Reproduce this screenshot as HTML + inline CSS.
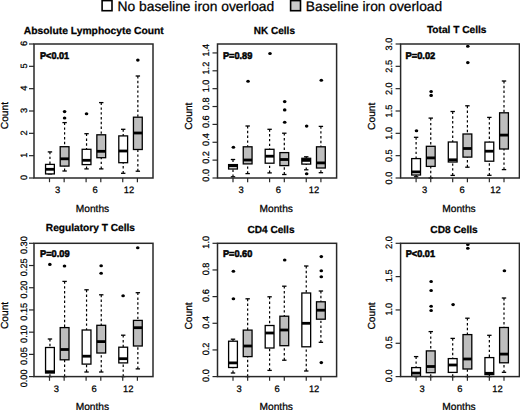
<!DOCTYPE html>
<html><head><meta charset="utf-8"><style>
html,body{margin:0;padding:0;background:#fff;}
svg{display:block;}
text{font-family:"Liberation Sans", sans-serif;text-rendering:geometricPrecision;fill:#000;stroke:#000;stroke-width:0.25px;}
.w{stroke:#000;stroke-width:1.2;stroke-dasharray:2.4 2.4;}
.s{stroke:#000;stroke-width:1.3;}
.b{stroke:#000;stroke-width:1.3;}
.m{stroke:#000;stroke-width:2.8;}
.o{fill:#000;}
.fr{fill:none;stroke:#282828;stroke-width:1.5;}
.t{stroke:#282828;stroke-width:1.2;}
.xl{font-size:9.4px;text-anchor:middle;}
.yl{font-size:9.2px;text-anchor:middle;}
.ti{font-size:10.2px;font-weight:bold;text-anchor:middle;}
.pv{font-size:9.8px;font-weight:bold;stroke-width:0.55px;}
.al{font-size:10.2px;text-anchor:middle;}
.lg{font-size:13.7px;}
</style></head><body>
<svg width="520" height="410" viewBox="0 0 520 410">
<g>
<rect width="520" height="410" fill="#fff"/>
<rect x="102.1" y="0.6" width="9.9" height="10.1" fill="#fff" stroke="#000" stroke-width="1.6"/>
<text x="117.6" y="10.9" class="lg" textLength="156.6" lengthAdjust="spacingAndGlyphs">No baseline iron overload</text>
<rect x="290.6" y="0.6" width="9.9" height="10.1" fill="#cacaca" stroke="#000" stroke-width="1.6"/>
<text x="305.8" y="10.9" class="lg" textLength="136.4" lengthAdjust="spacingAndGlyphs">Baseline iron overload</text>
<line x1="49.95" y1="151.9" x2="49.95" y2="164.4" class="w"/>
<line x1="49.95" y1="173.9" x2="49.95" y2="173.9" class="w"/>
<line x1="47.75" y1="151.9" x2="52.15" y2="151.9" class="s"/>
<line x1="47.75" y1="173.9" x2="52.15" y2="173.9" class="s"/>
<rect x="45.55" y="164.4" width="8.8" height="9.5" fill="#fff" class="b"/>
<line x1="45.55" y1="169.3" x2="54.35" y2="169.3" class="m"/>
<line x1="64.6" y1="122.6" x2="64.6" y2="146.7" class="w"/>
<line x1="64.6" y1="171" x2="64.6" y2="166.1" class="w"/>
<line x1="62.4" y1="122.6" x2="66.8" y2="122.6" class="s"/>
<line x1="62.4" y1="171" x2="66.8" y2="171" class="s"/>
<rect x="60.2" y="146.7" width="8.8" height="19.4" fill="#bebebe" class="b"/>
<line x1="60.2" y1="158.8" x2="69" y2="158.8" class="m"/>
<ellipse cx="64.6" cy="111.6" rx="1.8" ry="1.55" class="o"/>
<ellipse cx="64.6" cy="118" rx="1.8" ry="1.55" class="o"/>
<line x1="86.55" y1="133.7" x2="86.55" y2="149.3" class="w"/>
<line x1="86.55" y1="168.9" x2="86.55" y2="164.6" class="w"/>
<line x1="84.35" y1="133.7" x2="88.75" y2="133.7" class="s"/>
<line x1="84.35" y1="168.9" x2="88.75" y2="168.9" class="s"/>
<rect x="82.15" y="149.3" width="8.8" height="15.3" fill="#fff" class="b"/>
<line x1="82.15" y1="160.3" x2="90.95" y2="160.3" class="m"/>
<ellipse cx="86.55" cy="113.7" rx="1.8" ry="1.55" class="o"/>
<line x1="101.25" y1="102.6" x2="101.25" y2="134.8" class="w"/>
<line x1="101.25" y1="168.9" x2="101.25" y2="157.7" class="w"/>
<line x1="99.05" y1="102.6" x2="103.45" y2="102.6" class="s"/>
<line x1="99.05" y1="168.9" x2="103.45" y2="168.9" class="s"/>
<rect x="96.85" y="134.8" width="8.8" height="22.9" fill="#bebebe" class="b"/>
<line x1="96.85" y1="151.3" x2="105.65" y2="151.3" class="m"/>
<line x1="123.2" y1="129.3" x2="123.2" y2="135.9" class="w"/>
<line x1="123.2" y1="173.3" x2="123.2" y2="162.7" class="w"/>
<line x1="121" y1="129.3" x2="125.4" y2="129.3" class="s"/>
<line x1="121" y1="173.3" x2="125.4" y2="173.3" class="s"/>
<rect x="118.8" y="135.9" width="8.8" height="26.8" fill="#fff" class="b"/>
<line x1="118.8" y1="151" x2="127.6" y2="151" class="m"/>
<line x1="137.85" y1="76" x2="137.85" y2="117.2" class="w"/>
<line x1="137.85" y1="171.2" x2="137.85" y2="149.5" class="w"/>
<line x1="135.65" y1="76" x2="140.05" y2="76" class="s"/>
<line x1="135.65" y1="171.2" x2="140.05" y2="171.2" class="s"/>
<rect x="133.45" y="117.2" width="8.8" height="32.3" fill="#bebebe" class="b"/>
<line x1="133.45" y1="133" x2="142.25" y2="133" class="m"/>
<ellipse cx="137.85" cy="60.1" rx="1.8" ry="1.55" class="o"/>
<rect x="34" y="44" width="119" height="134" class="fr"/>
<line x1="49.5" y1="178" x2="49.5" y2="182.2" class="t"/>
<line x1="64.15" y1="178" x2="64.15" y2="182.2" class="t"/>
<line x1="86.1" y1="178" x2="86.1" y2="182.2" class="t"/>
<line x1="100.8" y1="178" x2="100.8" y2="182.2" class="t"/>
<line x1="122.75" y1="178" x2="122.75" y2="182.2" class="t"/>
<line x1="137.4" y1="178" x2="137.4" y2="182.2" class="t"/>
<text x="57.5" y="193" class="xl">3</text>
<text x="95.2" y="193" class="xl">6</text>
<text x="128.9" y="193" class="xl">12</text>
<line x1="29" y1="178" x2="34" y2="178" class="t"/>
<text transform="translate(27.2,177.5) rotate(-90)" class="yl">0</text>
<line x1="29" y1="155.67" x2="34" y2="155.67" class="t"/>
<text transform="translate(27.2,155.17) rotate(-90)" class="yl">1</text>
<line x1="29" y1="133.33" x2="34" y2="133.33" class="t"/>
<text transform="translate(27.2,132.83) rotate(-90)" class="yl">2</text>
<line x1="29" y1="111" x2="34" y2="111" class="t"/>
<text transform="translate(27.2,110.5) rotate(-90)" class="yl">3</text>
<line x1="29" y1="88.67" x2="34" y2="88.67" class="t"/>
<text transform="translate(27.2,88.17) rotate(-90)" class="yl">4</text>
<line x1="29" y1="66.33" x2="34" y2="66.33" class="t"/>
<text transform="translate(27.2,65.83) rotate(-90)" class="yl">5</text>
<line x1="29" y1="44" x2="34" y2="44" class="t"/>
<text transform="translate(27.2,43.5) rotate(-90)" class="yl">6</text>
<text x="93.8" y="33.5" class="ti" textLength="140" lengthAdjust="spacingAndGlyphs">Absolute Lymphocyte Count</text>
<text x="40" y="59.1" class="pv" textLength="29.1" lengthAdjust="spacingAndGlyphs">P&lt;0.01</text>
<text transform="translate(8,115.6) rotate(-90)" class="al">Count</text>
<text x="92.5" y="211.7" class="al">Months</text>
<line x1="233" y1="159.5" x2="233" y2="164.6" class="w"/>
<line x1="233" y1="176.8" x2="233" y2="169" class="w"/>
<line x1="230.8" y1="159.5" x2="235.2" y2="159.5" class="s"/>
<line x1="230.8" y1="176.8" x2="235.2" y2="176.8" class="s"/>
<rect x="228.6" y="164.6" width="8.8" height="4.4" fill="#fff" class="b"/>
<line x1="228.6" y1="165.8" x2="237.4" y2="165.8" class="m"/>
<ellipse cx="233.4" cy="147.3" rx="1.8" ry="1.55" class="o"/>
<line x1="247.65" y1="126" x2="247.65" y2="146.8" class="w"/>
<line x1="247.65" y1="173.6" x2="247.65" y2="163.9" class="w"/>
<line x1="245.45" y1="126" x2="249.85" y2="126" class="s"/>
<line x1="245.45" y1="173.6" x2="249.85" y2="173.6" class="s"/>
<rect x="243.25" y="146.8" width="8.8" height="17.1" fill="#bebebe" class="b"/>
<line x1="243.25" y1="160" x2="252.05" y2="160" class="m"/>
<ellipse cx="248.05" cy="81.3" rx="1.8" ry="1.55" class="o"/>
<line x1="269.6" y1="129.3" x2="269.6" y2="149.3" class="w"/>
<line x1="269.6" y1="172.9" x2="269.6" y2="163.2" class="w"/>
<line x1="267.4" y1="129.3" x2="271.8" y2="129.3" class="s"/>
<line x1="267.4" y1="172.9" x2="271.8" y2="172.9" class="s"/>
<rect x="265.2" y="149.3" width="8.8" height="13.9" fill="#fff" class="b"/>
<line x1="265.2" y1="156.2" x2="274" y2="156.2" class="m"/>
<ellipse cx="270" cy="53.5" rx="1.8" ry="1.55" class="o"/>
<line x1="284.3" y1="133.2" x2="284.3" y2="152.6" class="w"/>
<line x1="284.3" y1="174.5" x2="284.3" y2="165.6" class="w"/>
<line x1="282.1" y1="133.2" x2="286.5" y2="133.2" class="s"/>
<line x1="282.1" y1="174.5" x2="286.5" y2="174.5" class="s"/>
<rect x="279.9" y="152.6" width="8.8" height="13" fill="#bebebe" class="b"/>
<line x1="279.9" y1="159.5" x2="288.7" y2="159.5" class="m"/>
<ellipse cx="284.7" cy="101.6" rx="1.8" ry="1.55" class="o"/>
<ellipse cx="284.7" cy="109.9" rx="1.8" ry="1.55" class="o"/>
<ellipse cx="284.7" cy="122.3" rx="1.8" ry="1.55" class="o"/>
<line x1="306.25" y1="156.8" x2="306.25" y2="158.3" class="w"/>
<line x1="306.25" y1="169.8" x2="306.25" y2="164.1" class="w"/>
<line x1="304.05" y1="156.8" x2="308.45" y2="156.8" class="s"/>
<line x1="304.05" y1="169.8" x2="308.45" y2="169.8" class="s"/>
<rect x="301.85" y="158.3" width="8.8" height="5.8" fill="#fff" class="b"/>
<line x1="301.85" y1="160.4" x2="310.65" y2="160.4" class="m"/>
<ellipse cx="306.65" cy="126.1" rx="1.8" ry="1.55" class="o"/>
<ellipse cx="306.65" cy="173.8" rx="1.8" ry="1.55" class="o"/>
<line x1="320.9" y1="126.4" x2="320.9" y2="146.8" class="w"/>
<line x1="320.9" y1="172.7" x2="320.9" y2="168" class="w"/>
<line x1="318.7" y1="126.4" x2="323.1" y2="126.4" class="s"/>
<line x1="318.7" y1="172.7" x2="323.1" y2="172.7" class="s"/>
<rect x="316.5" y="146.8" width="8.8" height="21.2" fill="#bebebe" class="b"/>
<line x1="316.5" y1="162.9" x2="325.3" y2="162.9" class="m"/>
<ellipse cx="321.3" cy="80.3" rx="1.8" ry="1.55" class="o"/>
<rect x="217.5" y="44" width="119.1" height="134" class="fr"/>
<line x1="233" y1="178" x2="233" y2="182.2" class="t"/>
<line x1="247.65" y1="178" x2="247.65" y2="182.2" class="t"/>
<line x1="269.6" y1="178" x2="269.6" y2="182.2" class="t"/>
<line x1="284.3" y1="178" x2="284.3" y2="182.2" class="t"/>
<line x1="306.25" y1="178" x2="306.25" y2="182.2" class="t"/>
<line x1="320.9" y1="178" x2="320.9" y2="182.2" class="t"/>
<text x="241.1" y="193" class="xl">3</text>
<text x="278.4" y="193" class="xl">6</text>
<text x="313.9" y="193" class="xl">12</text>
<line x1="212.5" y1="178" x2="217.5" y2="178" class="t"/>
<text transform="translate(209.4,175.3) rotate(-90)" class="yl">0.0</text>
<line x1="212.5" y1="160.13" x2="217.5" y2="160.13" class="t"/>
<text transform="translate(209.4,157.43) rotate(-90)" class="yl">0.2</text>
<line x1="212.5" y1="142.27" x2="217.5" y2="142.27" class="t"/>
<text transform="translate(209.4,139.57) rotate(-90)" class="yl">0.4</text>
<line x1="212.5" y1="124.4" x2="217.5" y2="124.4" class="t"/>
<text transform="translate(209.4,121.7) rotate(-90)" class="yl">0.6</text>
<line x1="212.5" y1="106.53" x2="217.5" y2="106.53" class="t"/>
<text transform="translate(209.4,103.83) rotate(-90)" class="yl">0.8</text>
<line x1="212.5" y1="88.67" x2="217.5" y2="88.67" class="t"/>
<text transform="translate(209.4,85.97) rotate(-90)" class="yl">1.0</text>
<line x1="212.5" y1="70.8" x2="217.5" y2="70.8" class="t"/>
<text transform="translate(209.4,68.1) rotate(-90)" class="yl">1.2</text>
<line x1="212.5" y1="52.93" x2="217.5" y2="52.93" class="t"/>
<text transform="translate(209.4,50.23) rotate(-90)" class="yl">1.4</text>
<text x="274.4" y="33.5" class="ti" textLength="41.1" lengthAdjust="spacingAndGlyphs">NK Cells</text>
<text x="222.9" y="59" class="pv" textLength="29.4" lengthAdjust="spacingAndGlyphs">P=0.89</text>
<text transform="translate(191.5,116.2) rotate(-90)" class="al">Count</text>
<text x="276.2" y="211.5" class="al">Months</text>
<line x1="416.1" y1="137.3" x2="416.1" y2="158.6" class="w"/>
<line x1="416.1" y1="176.8" x2="416.1" y2="175" class="w"/>
<line x1="413.9" y1="137.3" x2="418.3" y2="137.3" class="s"/>
<line x1="413.9" y1="176.8" x2="418.3" y2="176.8" class="s"/>
<rect x="411.7" y="158.6" width="8.8" height="16.4" fill="#fff" class="b"/>
<line x1="411.7" y1="171.9" x2="420.5" y2="171.9" class="m"/>
<ellipse cx="416.5" cy="130.8" rx="1.8" ry="1.55" class="o"/>
<line x1="430.75" y1="118.1" x2="430.75" y2="146.3" class="w"/>
<line x1="430.75" y1="178" x2="430.75" y2="166.4" class="w"/>
<line x1="428.55" y1="118.1" x2="432.95" y2="118.1" class="s"/>
<line x1="428.55" y1="178" x2="432.95" y2="178" class="s"/>
<rect x="426.35" y="146.3" width="8.8" height="20.1" fill="#bebebe" class="b"/>
<line x1="426.35" y1="157.9" x2="435.15" y2="157.9" class="m"/>
<ellipse cx="431.15" cy="91.5" rx="1.8" ry="1.55" class="o"/>
<ellipse cx="431.15" cy="95.4" rx="1.8" ry="1.55" class="o"/>
<line x1="452.7" y1="111.5" x2="452.7" y2="142" class="w"/>
<line x1="452.7" y1="175.4" x2="452.7" y2="162" class="w"/>
<line x1="450.5" y1="111.5" x2="454.9" y2="111.5" class="s"/>
<line x1="450.5" y1="175.4" x2="454.9" y2="175.4" class="s"/>
<rect x="448.3" y="142" width="8.8" height="20" fill="#fff" class="b"/>
<line x1="448.3" y1="159.8" x2="457.1" y2="159.8" class="m"/>
<line x1="467.4" y1="105.8" x2="467.4" y2="134" class="w"/>
<line x1="467.4" y1="167.2" x2="467.4" y2="157.1" class="w"/>
<line x1="465.2" y1="105.8" x2="469.6" y2="105.8" class="s"/>
<line x1="465.2" y1="167.2" x2="469.6" y2="167.2" class="s"/>
<rect x="463" y="134" width="8.8" height="23.1" fill="#bebebe" class="b"/>
<line x1="463" y1="148.5" x2="471.8" y2="148.5" class="m"/>
<ellipse cx="467.8" cy="46.3" rx="1.8" ry="1.55" class="o"/>
<ellipse cx="467.8" cy="62.6" rx="1.8" ry="1.55" class="o"/>
<line x1="489.35" y1="117.4" x2="489.35" y2="142.1" class="w"/>
<line x1="489.35" y1="175.3" x2="489.35" y2="161.2" class="w"/>
<line x1="487.15" y1="117.4" x2="491.55" y2="117.4" class="s"/>
<line x1="487.15" y1="175.3" x2="491.55" y2="175.3" class="s"/>
<rect x="484.95" y="142.1" width="8.8" height="19.1" fill="#fff" class="b"/>
<line x1="484.95" y1="151.2" x2="493.75" y2="151.2" class="m"/>
<line x1="504" y1="81" x2="504" y2="112.8" class="w"/>
<line x1="504" y1="169.6" x2="504" y2="149" class="w"/>
<line x1="501.8" y1="81" x2="506.2" y2="81" class="s"/>
<line x1="501.8" y1="169.6" x2="506.2" y2="169.6" class="s"/>
<rect x="499.6" y="112.8" width="8.8" height="36.2" fill="#bebebe" class="b"/>
<line x1="499.6" y1="135.1" x2="508.4" y2="135.1" class="m"/>
<rect x="400.6" y="44" width="118.8" height="134" class="fr"/>
<line x1="416.1" y1="178" x2="416.1" y2="182.2" class="t"/>
<line x1="430.75" y1="178" x2="430.75" y2="182.2" class="t"/>
<line x1="452.7" y1="178" x2="452.7" y2="182.2" class="t"/>
<line x1="467.4" y1="178" x2="467.4" y2="182.2" class="t"/>
<line x1="489.35" y1="178" x2="489.35" y2="182.2" class="t"/>
<line x1="504" y1="178" x2="504" y2="182.2" class="t"/>
<text x="424.7" y="193" class="xl">3</text>
<text x="462" y="193" class="xl">6</text>
<text x="495.4" y="193" class="xl">12</text>
<line x1="395.6" y1="178" x2="400.6" y2="178" class="t"/>
<text transform="translate(391.5,178) rotate(-90)" class="yl">0.0</text>
<line x1="395.6" y1="155.67" x2="400.6" y2="155.67" class="t"/>
<text transform="translate(391.5,155.67) rotate(-90)" class="yl">0.5</text>
<line x1="395.6" y1="133.33" x2="400.6" y2="133.33" class="t"/>
<text transform="translate(391.5,133.33) rotate(-90)" class="yl">1.0</text>
<line x1="395.6" y1="111" x2="400.6" y2="111" class="t"/>
<text transform="translate(391.5,111) rotate(-90)" class="yl">1.5</text>
<line x1="395.6" y1="88.67" x2="400.6" y2="88.67" class="t"/>
<text transform="translate(391.5,88.67) rotate(-90)" class="yl">2.0</text>
<line x1="395.6" y1="66.33" x2="400.6" y2="66.33" class="t"/>
<text transform="translate(391.5,66.33) rotate(-90)" class="yl">2.5</text>
<line x1="395.6" y1="44" x2="400.6" y2="44" class="t"/>
<text transform="translate(391.5,44) rotate(-90)" class="yl">3.0</text>
<text x="456.7" y="33.3" class="ti" textLength="59.6" lengthAdjust="spacingAndGlyphs">Total T Cells</text>
<text x="405.5" y="59" class="pv" textLength="29.8" lengthAdjust="spacingAndGlyphs">P=0.02</text>
<text transform="translate(374.8,116.3) rotate(-90)" class="al">Count</text>
<text x="459" y="211.5" class="al">Months</text>
<line x1="49.95" y1="339" x2="49.95" y2="347.5" class="w"/>
<line x1="49.95" y1="376.6" x2="49.95" y2="373" class="w"/>
<line x1="47.75" y1="339" x2="52.15" y2="339" class="s"/>
<line x1="47.75" y1="376.6" x2="52.15" y2="376.6" class="s"/>
<rect x="45.55" y="347.5" width="8.8" height="25.5" fill="#fff" class="b"/>
<line x1="45.55" y1="371.7" x2="54.35" y2="371.7" class="m"/>
<ellipse cx="49.85" cy="264.4" rx="1.8" ry="1.55" class="o"/>
<line x1="64.6" y1="281.4" x2="64.6" y2="327.6" class="w"/>
<line x1="64.6" y1="376.6" x2="64.6" y2="359.8" class="w"/>
<line x1="62.4" y1="281.4" x2="66.8" y2="281.4" class="s"/>
<line x1="62.4" y1="376.6" x2="66.8" y2="376.6" class="s"/>
<rect x="60.2" y="327.6" width="8.8" height="32.2" fill="#bebebe" class="b"/>
<line x1="60.2" y1="349.5" x2="69" y2="349.5" class="m"/>
<ellipse cx="64.5" cy="266" rx="1.8" ry="1.55" class="o"/>
<line x1="86.55" y1="289.8" x2="86.55" y2="330" class="w"/>
<line x1="86.55" y1="372" x2="86.55" y2="364.1" class="w"/>
<line x1="84.35" y1="289.8" x2="88.75" y2="289.8" class="s"/>
<line x1="84.35" y1="372" x2="88.75" y2="372" class="s"/>
<rect x="82.15" y="330" width="8.8" height="34.1" fill="#fff" class="b"/>
<line x1="82.15" y1="356.2" x2="90.95" y2="356.2" class="m"/>
<line x1="101.25" y1="294.8" x2="101.25" y2="325.3" class="w"/>
<line x1="101.25" y1="372" x2="101.25" y2="353" class="w"/>
<line x1="99.05" y1="294.8" x2="103.45" y2="294.8" class="s"/>
<line x1="99.05" y1="372" x2="103.45" y2="372" class="s"/>
<rect x="96.85" y="325.3" width="8.8" height="27.7" fill="#bebebe" class="b"/>
<line x1="96.85" y1="341.6" x2="105.65" y2="341.6" class="m"/>
<ellipse cx="101.15" cy="265.7" rx="1.8" ry="1.55" class="o"/>
<ellipse cx="101.15" cy="273.3" rx="1.8" ry="1.55" class="o"/>
<line x1="123.2" y1="335.2" x2="123.2" y2="347.2" class="w"/>
<line x1="123.2" y1="376.6" x2="123.2" y2="362.9" class="w"/>
<line x1="121" y1="335.2" x2="125.4" y2="335.2" class="s"/>
<line x1="121" y1="376.6" x2="125.4" y2="376.6" class="s"/>
<rect x="118.8" y="347.2" width="8.8" height="15.7" fill="#fff" class="b"/>
<line x1="118.8" y1="358.7" x2="127.6" y2="358.7" class="m"/>
<ellipse cx="123.1" cy="295.7" rx="1.8" ry="1.55" class="o"/>
<line x1="137.85" y1="292.7" x2="137.85" y2="320.4" class="w"/>
<line x1="137.85" y1="368.9" x2="137.85" y2="346" class="w"/>
<line x1="135.65" y1="292.7" x2="140.05" y2="292.7" class="s"/>
<line x1="135.65" y1="368.9" x2="140.05" y2="368.9" class="s"/>
<rect x="133.45" y="320.4" width="8.8" height="25.6" fill="#bebebe" class="b"/>
<line x1="133.45" y1="327.7" x2="142.25" y2="327.7" class="m"/>
<ellipse cx="137.75" cy="247.8" rx="1.8" ry="1.55" class="o"/>
<rect x="34" y="243.3" width="119" height="133.3" class="fr"/>
<line x1="49.5" y1="376.6" x2="49.5" y2="380.8" class="t"/>
<line x1="64.15" y1="376.6" x2="64.15" y2="380.8" class="t"/>
<line x1="86.1" y1="376.6" x2="86.1" y2="380.8" class="t"/>
<line x1="100.8" y1="376.6" x2="100.8" y2="380.8" class="t"/>
<line x1="122.75" y1="376.6" x2="122.75" y2="380.8" class="t"/>
<line x1="137.4" y1="376.6" x2="137.4" y2="380.8" class="t"/>
<text x="56.4" y="391.6" class="xl">3</text>
<text x="94.1" y="391.6" class="xl">6</text>
<text x="128.2" y="391.6" class="xl">12</text>
<line x1="29" y1="376.6" x2="34" y2="376.6" class="t"/>
<text transform="translate(27.2,378.4) rotate(-90)" class="yl">0.00</text>
<line x1="29" y1="354.38" x2="34" y2="354.38" class="t"/>
<text transform="translate(27.2,356.18) rotate(-90)" class="yl">0.05</text>
<line x1="29" y1="332.17" x2="34" y2="332.17" class="t"/>
<text transform="translate(27.2,333.97) rotate(-90)" class="yl">0.10</text>
<line x1="29" y1="309.95" x2="34" y2="309.95" class="t"/>
<text transform="translate(27.2,311.75) rotate(-90)" class="yl">0.15</text>
<line x1="29" y1="287.73" x2="34" y2="287.73" class="t"/>
<text transform="translate(27.2,289.53) rotate(-90)" class="yl">0.20</text>
<line x1="29" y1="265.52" x2="34" y2="265.52" class="t"/>
<text transform="translate(27.2,267.32) rotate(-90)" class="yl">0.25</text>
<line x1="29" y1="243.3" x2="34" y2="243.3" class="t"/>
<text transform="translate(27.2,245.1) rotate(-90)" class="yl">0.30</text>
<text x="90.4" y="231.2" class="ti" textLength="89.2" lengthAdjust="spacingAndGlyphs">Regulatory T Cells</text>
<text x="40" y="256.9" class="pv" textLength="29.6" lengthAdjust="spacingAndGlyphs">P=0.09</text>
<text transform="translate(7.8,315.4) rotate(-90)" class="al">Count</text>
<text x="92.4" y="409.8" class="al">Months</text>
<line x1="233" y1="339.2" x2="233" y2="341.2" class="w"/>
<line x1="233" y1="373" x2="233" y2="367.5" class="w"/>
<line x1="230.8" y1="339.2" x2="235.2" y2="339.2" class="s"/>
<line x1="230.8" y1="373" x2="235.2" y2="373" class="s"/>
<rect x="228.6" y="341.2" width="8.8" height="26.3" fill="#fff" class="b"/>
<line x1="228.6" y1="362.9" x2="237.4" y2="362.9" class="m"/>
<ellipse cx="233.4" cy="271.3" rx="1.8" ry="1.55" class="o"/>
<ellipse cx="233.4" cy="298.8" rx="1.8" ry="1.55" class="o"/>
<line x1="247.65" y1="298.8" x2="247.65" y2="330.1" class="w"/>
<line x1="247.65" y1="376.6" x2="247.65" y2="356.6" class="w"/>
<line x1="245.45" y1="298.8" x2="249.85" y2="298.8" class="s"/>
<line x1="245.45" y1="376.6" x2="249.85" y2="376.6" class="s"/>
<rect x="243.25" y="330.1" width="8.8" height="26.5" fill="#bebebe" class="b"/>
<line x1="243.25" y1="346" x2="252.05" y2="346" class="m"/>
<line x1="269.6" y1="296.8" x2="269.6" y2="325.5" class="w"/>
<line x1="269.6" y1="370.4" x2="269.6" y2="348" class="w"/>
<line x1="267.4" y1="296.8" x2="271.8" y2="296.8" class="s"/>
<line x1="267.4" y1="370.4" x2="271.8" y2="370.4" class="s"/>
<rect x="265.2" y="325.5" width="8.8" height="22.5" fill="#fff" class="b"/>
<line x1="265.2" y1="333" x2="274" y2="333" class="m"/>
<line x1="284.3" y1="286.2" x2="284.3" y2="316.2" class="w"/>
<line x1="284.3" y1="360.2" x2="284.3" y2="345.7" class="w"/>
<line x1="282.1" y1="286.2" x2="286.5" y2="286.2" class="s"/>
<line x1="282.1" y1="360.2" x2="286.5" y2="360.2" class="s"/>
<rect x="279.9" y="316.2" width="8.8" height="29.5" fill="#bebebe" class="b"/>
<line x1="279.9" y1="330" x2="288.7" y2="330" class="m"/>
<ellipse cx="284.7" cy="260" rx="1.8" ry="1.55" class="o"/>
<line x1="306.25" y1="266" x2="306.25" y2="293" class="w"/>
<line x1="306.25" y1="371" x2="306.25" y2="346.8" class="w"/>
<line x1="304.05" y1="266" x2="308.45" y2="266" class="s"/>
<line x1="304.05" y1="371" x2="308.45" y2="371" class="s"/>
<rect x="301.85" y="293" width="8.8" height="53.8" fill="#fff" class="b"/>
<line x1="301.85" y1="323.3" x2="310.65" y2="323.3" class="m"/>
<line x1="320.9" y1="291" x2="320.9" y2="301.8" class="w"/>
<line x1="320.9" y1="342.3" x2="320.9" y2="319.2" class="w"/>
<line x1="318.7" y1="291" x2="323.1" y2="291" class="s"/>
<line x1="318.7" y1="342.3" x2="323.1" y2="342.3" class="s"/>
<rect x="316.5" y="301.8" width="8.8" height="17.4" fill="#bebebe" class="b"/>
<line x1="316.5" y1="310.2" x2="325.3" y2="310.2" class="m"/>
<ellipse cx="321.3" cy="256.6" rx="1.8" ry="1.55" class="o"/>
<ellipse cx="321.3" cy="270.8" rx="1.8" ry="1.55" class="o"/>
<ellipse cx="321.3" cy="276.8" rx="1.8" ry="1.55" class="o"/>
<ellipse cx="321.3" cy="362.6" rx="1.8" ry="1.55" class="o"/>
<rect x="217.5" y="243.3" width="119.1" height="133.3" class="fr"/>
<line x1="233" y1="376.6" x2="233" y2="380.8" class="t"/>
<line x1="247.65" y1="376.6" x2="247.65" y2="380.8" class="t"/>
<line x1="269.6" y1="376.6" x2="269.6" y2="380.8" class="t"/>
<line x1="284.3" y1="376.6" x2="284.3" y2="380.8" class="t"/>
<line x1="306.25" y1="376.6" x2="306.25" y2="380.8" class="t"/>
<line x1="320.9" y1="376.6" x2="320.9" y2="380.8" class="t"/>
<text x="239.1" y="391.6" class="xl">3</text>
<text x="277.1" y="391.6" class="xl">6</text>
<text x="314.1" y="391.6" class="xl">12</text>
<line x1="212.5" y1="376.6" x2="217.5" y2="376.6" class="t"/>
<text transform="translate(209.4,375.6) rotate(-90)" class="yl">0.0</text>
<line x1="212.5" y1="349.94" x2="217.5" y2="349.94" class="t"/>
<text transform="translate(209.4,348.94) rotate(-90)" class="yl">0.2</text>
<line x1="212.5" y1="323.28" x2="217.5" y2="323.28" class="t"/>
<text transform="translate(209.4,322.28) rotate(-90)" class="yl">0.4</text>
<line x1="212.5" y1="296.62" x2="217.5" y2="296.62" class="t"/>
<text transform="translate(209.4,295.62) rotate(-90)" class="yl">0.6</text>
<line x1="212.5" y1="269.96" x2="217.5" y2="269.96" class="t"/>
<text transform="translate(209.4,268.96) rotate(-90)" class="yl">0.8</text>
<line x1="212.5" y1="243.3" x2="217.5" y2="243.3" class="t"/>
<text transform="translate(209.4,242.3) rotate(-90)" class="yl">1.0</text>
<text x="271" y="232.8" class="ti" textLength="47" lengthAdjust="spacingAndGlyphs">CD4 Cells</text>
<text x="222.9" y="256.6" class="pv" textLength="29.4" lengthAdjust="spacingAndGlyphs">P=0.60</text>
<text transform="translate(191.5,315.9) rotate(-90)" class="al">Count</text>
<text x="276.2" y="409.8" class="al">Months</text>
<line x1="416.1" y1="356.6" x2="416.1" y2="367.6" class="w"/>
<line x1="416.1" y1="376.6" x2="416.1" y2="376.2" class="w"/>
<line x1="413.9" y1="356.6" x2="418.3" y2="356.6" class="s"/>
<line x1="413.9" y1="376.6" x2="418.3" y2="376.6" class="s"/>
<rect x="411.7" y="367.6" width="8.8" height="8.6" fill="#fff" class="b"/>
<line x1="411.7" y1="373.1" x2="420.5" y2="373.1" class="m"/>
<line x1="430.75" y1="331.6" x2="430.75" y2="350.9" class="w"/>
<line x1="430.75" y1="376.6" x2="430.75" y2="372.7" class="w"/>
<line x1="428.55" y1="331.6" x2="432.95" y2="331.6" class="s"/>
<line x1="428.55" y1="376.6" x2="432.95" y2="376.6" class="s"/>
<rect x="426.35" y="350.9" width="8.8" height="21.8" fill="#bebebe" class="b"/>
<line x1="426.35" y1="366.5" x2="435.15" y2="366.5" class="m"/>
<ellipse cx="431.15" cy="281.5" rx="1.8" ry="1.55" class="o"/>
<ellipse cx="431.15" cy="290.5" rx="1.8" ry="1.55" class="o"/>
<ellipse cx="431.15" cy="306.2" rx="1.8" ry="1.55" class="o"/>
<ellipse cx="431.15" cy="310.5" rx="1.8" ry="1.55" class="o"/>
<line x1="452.7" y1="338.4" x2="452.7" y2="358.6" class="w"/>
<line x1="452.7" y1="376.6" x2="452.7" y2="372.4" class="w"/>
<line x1="450.5" y1="338.4" x2="454.9" y2="338.4" class="s"/>
<line x1="450.5" y1="376.6" x2="454.9" y2="376.6" class="s"/>
<rect x="448.3" y="358.6" width="8.8" height="13.8" fill="#fff" class="b"/>
<line x1="448.3" y1="365" x2="457.1" y2="365" class="m"/>
<ellipse cx="453.1" cy="304.6" rx="1.8" ry="1.55" class="o"/>
<line x1="467.4" y1="318.2" x2="467.4" y2="334.6" class="w"/>
<line x1="467.4" y1="376.6" x2="467.4" y2="369" class="w"/>
<line x1="465.2" y1="318.2" x2="469.6" y2="318.2" class="s"/>
<line x1="465.2" y1="376.6" x2="469.6" y2="376.6" class="s"/>
<rect x="463" y="334.6" width="8.8" height="34.4" fill="#bebebe" class="b"/>
<line x1="463" y1="359" x2="471.8" y2="359" class="m"/>
<ellipse cx="467.8" cy="244.5" rx="1.8" ry="1.55" class="o"/>
<ellipse cx="467.8" cy="248.3" rx="1.8" ry="1.55" class="o"/>
<line x1="489.35" y1="335.3" x2="489.35" y2="357.6" class="w"/>
<line x1="489.35" y1="376.6" x2="489.35" y2="374.6" class="w"/>
<line x1="487.15" y1="335.3" x2="491.55" y2="335.3" class="s"/>
<line x1="487.15" y1="376.6" x2="491.55" y2="376.6" class="s"/>
<rect x="484.95" y="357.6" width="8.8" height="17" fill="#fff" class="b"/>
<line x1="484.95" y1="373.3" x2="493.75" y2="373.3" class="m"/>
<line x1="504" y1="298" x2="504" y2="327.5" class="w"/>
<line x1="504" y1="372.3" x2="504" y2="362.8" class="w"/>
<line x1="501.8" y1="298" x2="506.2" y2="298" class="s"/>
<line x1="501.8" y1="372.3" x2="506.2" y2="372.3" class="s"/>
<rect x="499.6" y="327.5" width="8.8" height="35.3" fill="#bebebe" class="b"/>
<line x1="499.6" y1="354.1" x2="508.4" y2="354.1" class="m"/>
<ellipse cx="504.4" cy="270.8" rx="1.8" ry="1.55" class="o"/>
<rect x="400.6" y="243.3" width="118.8" height="133.3" class="fr"/>
<line x1="416.1" y1="376.6" x2="416.1" y2="380.8" class="t"/>
<line x1="430.75" y1="376.6" x2="430.75" y2="380.8" class="t"/>
<line x1="452.7" y1="376.6" x2="452.7" y2="380.8" class="t"/>
<line x1="467.4" y1="376.6" x2="467.4" y2="380.8" class="t"/>
<line x1="489.35" y1="376.6" x2="489.35" y2="380.8" class="t"/>
<line x1="504" y1="376.6" x2="504" y2="380.8" class="t"/>
<text x="422" y="391.6" class="xl">3</text>
<text x="459.8" y="391.6" class="xl">6</text>
<text x="497.4" y="391.6" class="xl">12</text>
<line x1="395.6" y1="376.6" x2="400.6" y2="376.6" class="t"/>
<text transform="translate(392.3,375.8) rotate(-90)" class="yl">0.0</text>
<line x1="395.6" y1="343.28" x2="400.6" y2="343.28" class="t"/>
<text transform="translate(392.3,342.48) rotate(-90)" class="yl">0.5</text>
<line x1="395.6" y1="309.95" x2="400.6" y2="309.95" class="t"/>
<text transform="translate(392.3,309.15) rotate(-90)" class="yl">1.0</text>
<line x1="395.6" y1="276.62" x2="400.6" y2="276.62" class="t"/>
<text transform="translate(392.3,275.82) rotate(-90)" class="yl">1.5</text>
<line x1="395.6" y1="243.3" x2="400.6" y2="243.3" class="t"/>
<text transform="translate(392.3,242.5) rotate(-90)" class="yl">2.0</text>
<text x="454" y="232.8" class="ti" textLength="47.3" lengthAdjust="spacingAndGlyphs">CD8 Cells</text>
<text x="405.7" y="256.6" class="pv" textLength="29.3" lengthAdjust="spacingAndGlyphs">P&lt;0.01</text>
<text transform="translate(374.8,315.9) rotate(-90)" class="al">Count</text>
<text x="459" y="409.8" class="al">Months</text>
</g>
</svg>
</body></html>
